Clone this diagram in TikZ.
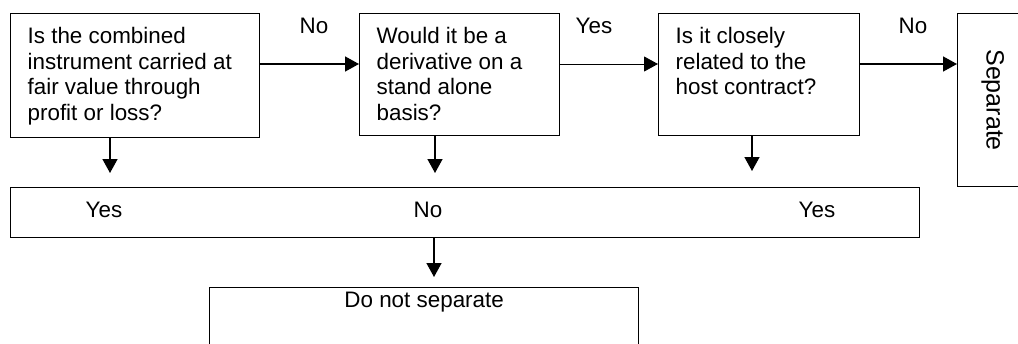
\documentclass[tikz,border=0pt]{standalone}
\usepackage{fontspec}
\setmainfont{Liberation Sans}
\usetikzlibrary{arrows.meta}
\newcommand{\qtext}[3]{\parbox[t][#1][t]{#2}{\raggedright\rule{0pt}{18pt}#3}}
\begin{document}
\begin{tikzpicture}[x=1pt,y=-1pt,
  every node/.style={font=\fontsize{22.4}{25.6}\selectfont},
  qbox/.style={draw,line width=1.3pt,anchor=north west,inner xsep=17pt,inner ysep=12pt},
  flow/.style={line width=1.5pt,-{Triangle[length=14pt,width=15pt]}},
  word/.style={anchor=base,inner sep=0pt}]
\useasboundingbox (0,0) rectangle (1018,343);
\node[qbox] (fvtpl) at (10,13) {\qtext{100pt}{215pt}{Is the combined\\instrument carried at\\fair value through\\profit or loss?}};
\node[qbox] (deriv) at (359,13) {\qtext{98pt}{166pt}{Would it be a\\derivative on a\\stand alone\\basis?}};
\node[qbox] (related) at (658,13) {\qtext{98pt}{167pt}{Is it closely\\related to the\\host contract?}};
\node[draw,line width=1.3pt,anchor=north west,minimum width=70pt,minimum height=173pt,font=\fontsize{25}{30}\selectfont] (split) at (957,13) {\rotatebox{-90}{Separate}};
\node[draw,line width=1.3pt,anchor=north west,minimum width=909pt,minimum height=50pt,inner sep=0pt] (outcome) at (10,187) {};
\node[word] (yes1) at (104,217) {Yes};
\node[word] (no2) at (428,217) {No};
\node[word] (yes3) at (817,217) {Yes};
\node[qbox,inner ysep=2pt] (keep) at (209,287) {\parbox[t][80pt][t]{395pt}{\centering\rule{0pt}{18pt}Do not separate}};
\coordinate (row) at (0,64);
\draw[flow] (fvtpl.east |- row) -- (deriv.west |- row);
\draw[flow,line width=0.9pt] (deriv.east |- row) -- (related.west |- row);
\draw[flow] (related.east |- row) -- (split.west |- row);
\node[word] (no1) at (314,33) {No};
\node[word] (yes2) at (594,33) {Yes};
\node[word] (no3) at (913,33) {No};
\coordinate (d1) at (110,173);
\coordinate (d2) at (435,173);
\coordinate (d3) at (752,171);
\coordinate (d4) at (434,277);
\draw[flow] (fvtpl.south -| d1) -- (d1);
\draw[flow] (deriv.south -| d2) -- (d2);
\draw[flow] (related.south -| d3) -- (d3);
\draw[flow] (outcome.south -| d4) -- (d4);
\end{tikzpicture}
\end{document}
